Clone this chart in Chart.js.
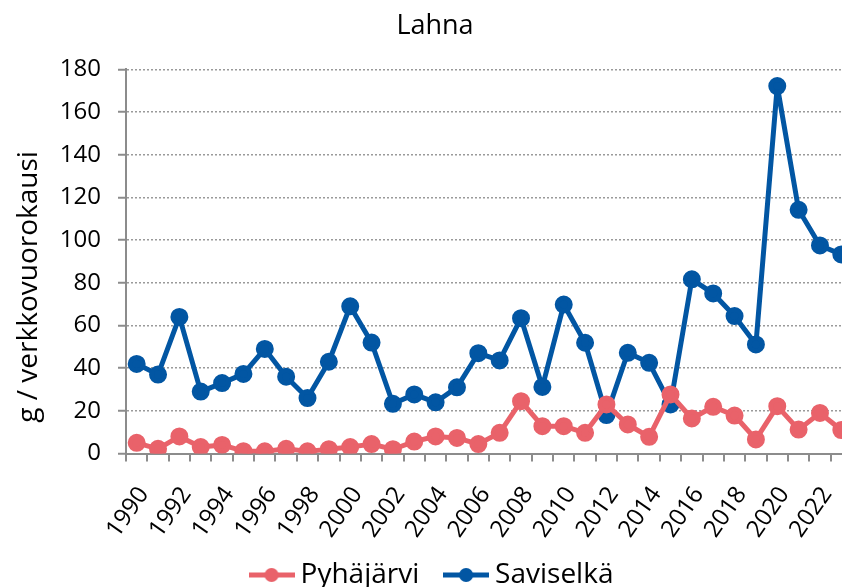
<!DOCTYPE html>
<html>
<head>
<meta charset="utf-8">
<script src="https://cdn.jsdelivr.net/npm/chart.js@4"></script>
<style>
  html, body { margin: 0; padding: 0; background: #fff; overflow: hidden; }
  #wrap { width: 888px; height: 599px; }
</style>
</head>
<body>
<div id="wrap"><canvas id="lahnaChart" width="888" height="599"></canvas></div>
<script>
// data
const years = ['1990','1991','1992','1993','1994','1995','1996','1997','1998','1999',
  '2000','2001','2002','2003','2004','2005','2006','2007','2008','2009',
  '2010','2011','2012','2013','2014','2015','2016','2017','2018','2019',
  '2020','2021','2022','2023'];
const pyhajarvi = [5, 2.2, 8, 3, 4, 1.1, 1, 2.2, 1, 2, 3, 4.4, 2, 5.6, 8, 7.3, 4.4,
  9.7, 24.5, 12.8, 12.8, 9.7, 23, 13.6, 7.8, 27.7, 16.4, 21.9, 17.8, 6.6, 22.2, 11.2, 19, 11];
const saviselka = [42, 37, 64, 29, 33, 37.3, 49, 36, 26, 43, 69, 52, 23.3, 27.7, 24, 31, 47,
  43.6, 63.4, 31.2, 69.8, 51.9, 18, 47.2, 42.5, 23, 81.6, 75, 64.4, 51.1, 172.2, 114.2, 97.5, 93.3];
const yTicks = [0, 20, 40, 60, 80, 100, 120, 140, 160, 180];

const red = '#E9626A';
const blue = '#0256A3';
const font = "'Open Sans', sans-serif";

// legend marker: line with a dot
function legendMarker(color) {
  const c = document.createElement('canvas');
  c.width = 46; c.height = 16;
  const g = c.getContext('2d');
  g.strokeStyle = color; g.lineWidth = 5;
  g.beginPath(); g.moveTo(0, 8); g.lineTo(46, 8); g.stroke();
  g.fillStyle = color;
  g.beginPath(); g.arc(23, 8, 7, 0, Math.PI * 2); g.fill();
  return c;
}

const ctx = document.getElementById('lahnaChart').getContext('2d');
const lahnaChart = new Chart(ctx, {
  type: 'line',
  data: {
    labels: years,
    datasets: [{
      label: 'Pyhäjärvi',
      data: pyhajarvi,
      borderColor: red,
      backgroundColor: red,
      borderWidth: 5,
      borderJoinStyle: 'round',
      pointRadius: 6.5,
      pointHoverRadius: 6.5,
      tension: 0
    }, {
      label: 'Saviselkä',
      data: saviselka,
      borderColor: blue,
      backgroundColor: blue,
      borderWidth: 5,
      borderJoinStyle: 'round',
      pointRadius: 6.5,
      pointHoverRadius: 6.5,
      tension: 0
    }]
  },
  options: {
    responsive: false,
    animation: false,
    // the original chart runs past the right edge of the picture
    layout: { padding: { left: 18, right: 36, top: 0, bottom: 0 } },
    plugins: {
      title: {
        display: true,
        text: 'Lahna',
        color: '#000',
        font: { family: font, size: 27, weight: 'normal' },
        padding: { top: 10, bottom: 27 }
      },
      legend: {
        position: 'bottom',
        labels: {
          color: '#000',
          font: { family: font, size: 28 },
          usePointStyle: true,
          pointStyleWidth: 30,
          padding: 10,
          generateLabels: function (chart) {
            return chart.data.datasets.map(function (ds, i) {
              return {
                // trailing spaces keep the gap before the next marker
                text: i === 0 ? ds.label + '\u00a0\u00a0\u00a0' : ds.label,
                pointStyle: legendMarker(ds.borderColor),
                fillStyle: ds.borderColor,
                strokeStyle: ds.borderColor,
                lineWidth: 0,
                fontColor: '#000',
                datasetIndex: i
              };
            });
          }
        }
      },
      tooltip: { enabled: false }
    },
    scales: {
      x: {
        offset: true,
        afterFit: function (scale) { scale.height = 97.5; },
        grid: {
          offset: true,
          drawOnChartArea: false,
          drawTicks: true,
          tickLength: 8,
          color: '#8c8c8c',
          lineWidth: 2
        },
        border: { color: '#8c8c8c', width: 2 },
        ticks: {
          color: '#000',
          font: { family: font, size: 24 },
          autoSkip: false,
          maxRotation: 55,
          minRotation: 55,
          padding: 20,
          labelOffset: 7,
          callback: function (value, index) {
            return index % 2 === 0 ? years[index] : '';
          }
        }
      },
      y: {
        min: 0,
        max: 180,
        afterFit: function (scale) { scale.width = 108; },
        afterBuildTicks: function (axis) {
          axis.ticks = yTicks.map(function (v) { return { value: v }; });
        },
        grid: {
          color: '#9a9a9a',
          lineWidth: 1.5,
          drawTicks: true,
          tickLength: 8,
          tickColor: '#8c8c8c',
          tickWidth: 2
        },
        border: { color: '#8c8c8c', width: 2, dash: [2, 2] },
        ticks: {
          color: '#000',
          font: { family: font, size: 24 },
          padding: 17
        },
        title: {
          display: true,
          text: 'g / verkkovuorokausi' + '\u00a0'.repeat(7),
          color: '#000',
          font: { family: font, size: 28 },
          padding: { top: -6, bottom: 4 }
        }
      }
    }
  }
});
</script>
</body>
</html>
